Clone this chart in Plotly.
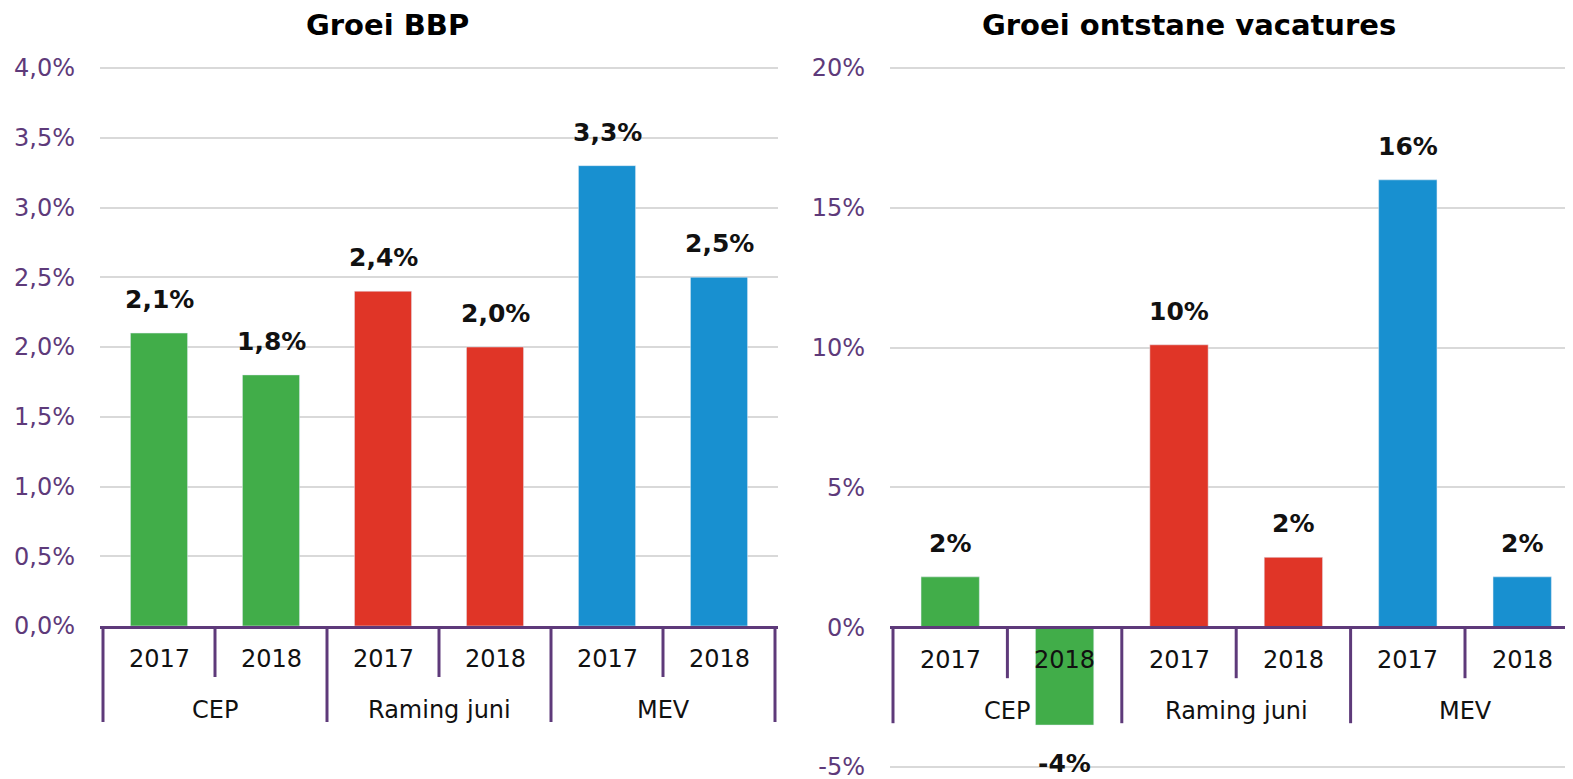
import plotly.graph_objects as go

groups = ["CEP", "CEP", "Raming juni", "Raming juni", "MEV", "MEV"]
years = ["2017", "2018", "2017", "2018", "2017", "2018"]
group_names = ["CEP", "Raming juni", "MEV"]
bbp_values = [2.1, 1.8, 2.4, 2.0, 3.3, 2.5]
vac_values = [1.8, -3.5, 10.1, 2.5, 16.0, 1.8]
bar_colors = ["#41AD49", "#41AD49", "#E03527", "#E03527", "#1890D0", "#1890D0"]
titles = ["Groei BBP", "Groei ontstane vacatures"]
bbp_ticks = [0, 0.5, 1.0, 1.5, 2.0, 2.5, 3.0, 3.5, 4.0]
vac_ticks = [-5, 0, 5, 10, 15, 20]

# page offset (browser body margin)
OFF = 8
W, H = 1573 - OFF, 779 - OFF
PURPLE = "#5E3A7A"
FONT = "DejaVu Sans"


def fx(p):
    return (p - OFF) / W


def fy(p):
    return 1 - (p - OFF) / H


# left panel geometry (page px)
L_X0, L_X1 = 103, 775
L_Y0PX, L_Y4PX = 626, 68          # pixel of 0% and 4%
# right panel geometry
R_X0, R_X1 = 893, 1573
R_YM5PX, R_Y20PX = 767, 68        # pixel of -5% and 20%
PAD = 3
XPAD = 3

l_upp = (bbp_ticks[-1] - bbp_ticks[0]) / (L_Y0PX - L_Y4PX)
l_range = [bbp_ticks[0], bbp_ticks[-1] + PAD * l_upp]
l_dom = [fy(L_Y0PX), fy(L_Y4PX - PAD)]
l_cat_w = (L_X1 - L_X0) / len(years)
l_xrange = [-0.5 - XPAD / l_cat_w, len(years) - 0.5 + XPAD / l_cat_w]

r_upp = (vac_ticks[-1] - vac_ticks[0]) / (R_YM5PX - R_Y20PX)
r_range = [vac_ticks[0] - PAD * r_upp, vac_ticks[-1] + PAD * r_upp]
r_dom = [fy(R_YM5PX + PAD), fy(R_Y20PX - PAD)]
r_zero_px = R_Y20PX + (vac_ticks[-1] - 0) / r_upp
r_cat_w = (1522 - 950) / 5.0
r_xrange = [-0.5 - XPAD / r_cat_w, -0.5 + (R_X1 - R_X0) / r_cat_w]

fig = go.Figure()
fig.add_trace(go.Bar(x=[groups, years], y=bbp_values, marker_color=bar_colors,
                     width=0.51, xaxis="x", yaxis="y", showlegend=False))
fig.add_trace(go.Bar(x=[groups, years], y=vac_values, marker_color=bar_colors,
                     width=0.51, xaxis="x2", yaxis="y2", showlegend=False))

xaxis_common = dict(
    type="multicategory", showline=True, linecolor=PURPLE, linewidth=3,
    ticks="", showticklabels=False, showdividers=False,
    showgrid=False, zeroline=False, automargin=False, fixedrange=True,
)
yaxis_common = dict(
    showline=False, showgrid=True, gridcolor="#D9D9D9", gridwidth=1.5,
    zeroline=False, ticks="", ticklabelstandoff=24, ticklabeloverflow="allow",
    tickfont=dict(family=FONT, size=24, color=PURPLE),
    automargin=False, fixedrange=True,
)

fig.update_layout(
    width=W, height=H, autosize=False,
    margin=dict(l=0, r=0, t=0, b=0),
    paper_bgcolor="white", plot_bgcolor="white",
    xaxis=dict(domain=[fx(L_X0 - XPAD), fx(L_X1 + XPAD)], anchor="y", range=l_xrange,
               **xaxis_common),
    yaxis=dict(domain=l_dom, anchor="x", range=l_range, tickmode="array",
               tickvals=bbp_ticks,
               ticktext=[f"{v:.1f}%".replace(".", ",") for v in bbp_ticks],
               **yaxis_common),
    xaxis2=dict(domain=[fx(R_X0 - XPAD), 1.0], anchor="free", position=fy(r_zero_px),
                range=r_xrange, **xaxis_common),
    yaxis2=dict(domain=r_dom, anchor="x2", range=r_range, tickmode="array",
                tickvals=vac_ticks, ticktext=[f"{v:.0f}%" for v in vac_ticks],
                **yaxis_common),
)

annotations = []
shapes = []
panels = [("x", "y", bbp_values, "{:.1f}%", fy(L_Y0PX)),
          ("x2", "y2", vac_values, "{:.0f}%", fy(r_zero_px))]
for xr, yr, vals, fmt, zero_paper in panels:
    # value labels
    for i, v in enumerate(vals):
        annotations.append(dict(
            xref=xr, yref=yr, x=i, y=v, text=fmt.format(v).replace(".", ","),
            showarrow=False, yanchor="bottom" if v >= 0 else "top",
            yshift=17 if v >= 0 else -22,
            font=dict(family=FONT, size=25, color="#111111", weight="bold")))
    # year tick labels
    for i, yv in enumerate(years):
        annotations.append(dict(
            xref=xr, yref=yr, x=i, y=0, text=yv, showarrow=False,
            yanchor="middle", yshift=-33,
            font=dict(family=FONT, size=24, color="#111111")))
    # group labels
    for g in group_names:
        idx = [i for i, gg in enumerate(groups) if gg == g]
        annotations.append(dict(
            xref=xr, yref=yr, x=sum(idx) / len(idx), y=0, text=g, showarrow=False,
            yanchor="middle", yshift=-84,
            font=dict(family=FONT, size=24, color="#111111")))
    # tick marks between categories and group dividers
    for b in range(len(years) + 1):
        xb = b - 0.5
        is_div = b == 0 or b == len(years) or groups[b - 1] != groups[b]
        shapes.append(dict(
            type="line", xref=xr, yref="paper", x0=xb, x1=xb,
            ysizemode="pixel", yanchor=zero_paper, y0=0, y1=-(96 if is_div else 51),
            line=dict(color=PURPLE, width=3), layer="above"))

for t, cx in zip(titles, [387, 1189]):
    annotations.append(dict(
        xref="paper", yref="paper", x=fx(cx), y=fy(25),
        text=t, showarrow=False, xanchor="center", yanchor="middle",
        font=dict(family=FONT, size=29, color="#000000", weight="bold")))

fig.update_layout(annotations=annotations, shapes=shapes)

fig.write_html("out.html")
